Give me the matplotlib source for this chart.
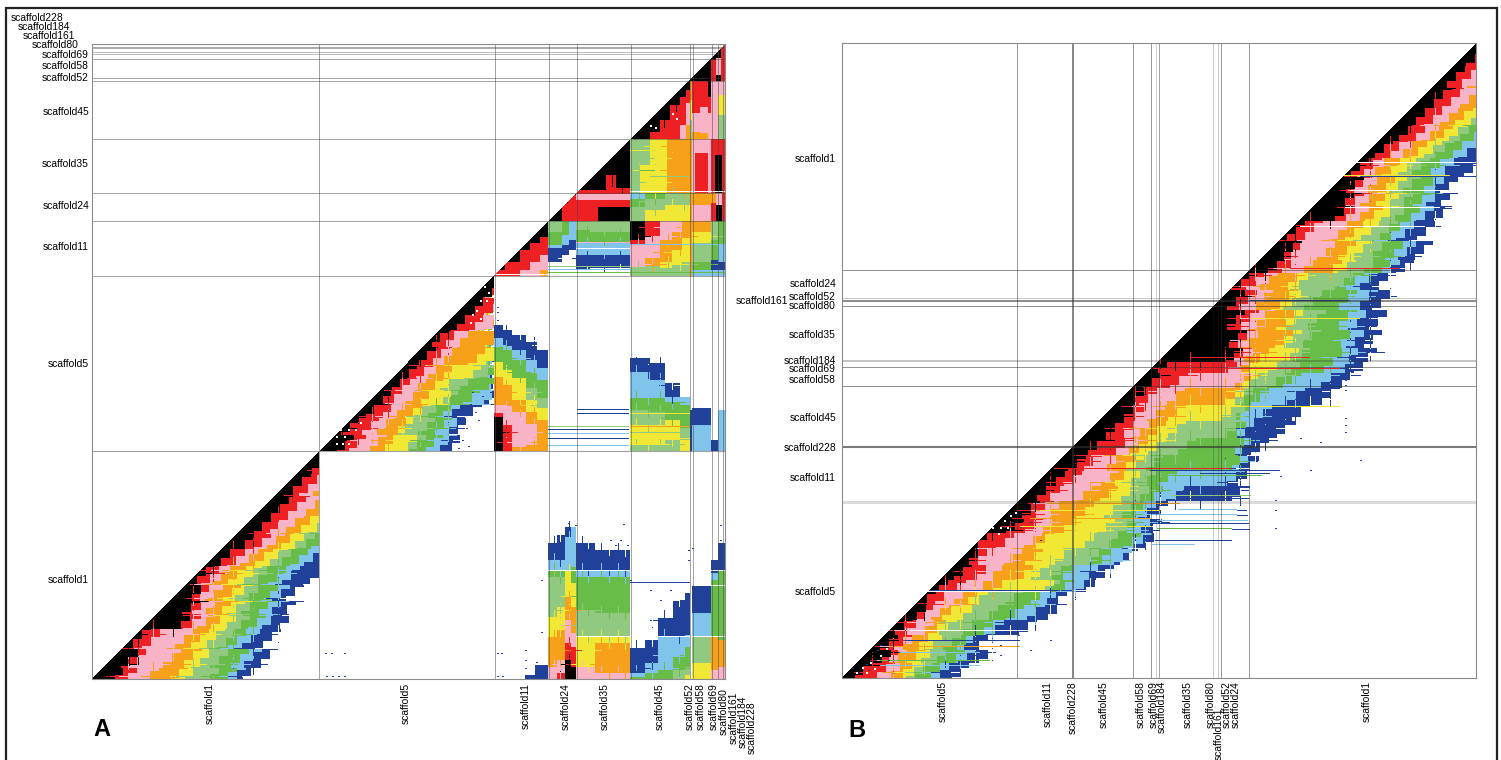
import numpy as np
import matplotlib
matplotlib.use("Agg")
import matplotlib.pyplot as plt
from matplotlib.colors import ListedColormap
from matplotlib.patches import Rectangle

plt.rcParams['font.family'] = ['Liberation Sans', 'DejaVu Sans']

# class codes: white, black, red, pink, orange, yellow, light green, green, sky, blue
CODES = "WKRPOYLGSB"
COLOURS = ['#FFFFFF', '#000000', '#EE2024', '#F8B4C6', '#F7A11B', '#F0E835',
           '#92C981', '#68BC48', '#80C4EC', '#21409A']

# ---------- panel B: distance from the diagonal at which each class ends, by row
B_ROW = [57, 76, 100, 117, 133, 150, 167, 187, 200, 213, 230, 253, 267, 280, 300, 320, 340, 357, 367,
         380, 397, 413, 430, 447, 463, 480, 493, 510, 527, 540, 557, 573, 587, 597, 613, 628, 643, 657, 670]
B_K = [14, 13, 18, 18, 19, 13, 7, 20, 28, 36, 6, 21, 23, 4, 18, 36, 56, 70, 12,
       15, 16, 23, 23, 23, 21, 18, 17, 20, 22, 3, 12, 15, 9, 6, 14, 10, 13, 24, 14]
B_R = [30, 26, 33, 33, 34, 26, 18, 26, 36, 45, 22, 26, 35, 17, 28, 48, 63, 77, 80,
       40, 27, 32, 39, 49, 35, 33, 29, 32, 39, 28, 19, 36, 25, 21, 19, 20, 25, 29, 35]
B_P = [45, 38, 49, 47, 46, 37, 27, 38, 48, 57, 53, 59, 55, 29, 42, 62, 72, 85, 90,
       103, 53, 51, 53, 60, 56, 68, 59, 44, 55, 54, 52, 50, 49, 38, 33, 36, 32, 36, 47]
B_O = [60, 52, 65, 60, 58, 50, 41, 54, 62, 69, 67, 78, 82, 55, 65, 88, 105, 99, 97,
       108, 110, 70, 68, 68, 73, 80, 83, 77, 74, 64, 71, 79, 66, 50, 42, 46, 46, 52, 57]
B_Y = [75, 66, 79, 74, 70, 63, 55, 64, 74, 83, 81, 92, 94, 64, 75, 95, 112, 127, 123,
       113, 117, 122, 86, 84, 80, 94, 102, 103, 114, 111, 99, 93, 116, 59, 61, 55, 58, 64, 66]
B_L = [90, 80, 93, 85, 79, 73, 67, 76, 86, 95, 98, 109, 118, 107, 94, 116, 129, 137, 144,
       138, 124, 134, 143, 112, 97, 108, 119, 119, 133, 133, 132, 112, 120, 92, 85, 77, 75, 78, 73]
B_G = [105, 95, 107, 99, 91, 88, 84, 95, 102, 109, 107, 128, 134, 116, 127, 145, 165, 175, 175,
       152, 138, 136, 151, 167, 182, 127, 131, 129, 140, 154, 142, 121, 132, 116, 109, 96, 87, 95, 88]
B_S = [120, 110, 121, 111, 103, 100, 96, 104, 113, 121, 119, 139, 141, 128, 146, 161, 177, 189, 194,
       188, 172, 157, 157, 172, 187, 193, 150, 140, 152, 163, 161, 145, 149, 130, 128, 105, 92, 104, 95]
B_B = [135, 125, 134, 125, 115, 118, 122, 116, 126, 137, 138, 154, 153, 145, 165, 180, 193, 206, 210,
       207, 205, 193, 196, 188, 196, 202, 214, 150, 162, 172, 165, 159, 158, 139, 147, 136, 105, 123, 113]
B_TABLE = [B_K, B_R, B_P, B_O, B_Y, B_L, B_G, B_S, B_B]

# thin streaks in panel B: y, x from, x to, class
B_STREAKS = [
    (162, 1340, 1476, 'W'), (175, 1330, 1450, 'Y'), (176, 1360, 1476, 'B'), (190, 1350, 1450, 'W'),
    (207, 1345, 1440, 'W'), (226, 1300, 1425, 'W'), (268, 1290, 1400, 'R'), (300, 1250, 1350, 'B'),
    (318, 1252, 1360, 'Y'), (368, 1180, 1340, 'R'), (357, 1190, 1310, 'R'), (406, 1180, 1340, 'Y'),
    (468, 1070, 1230, 'R'), (470, 1150, 1280, 'B'), (473, 1200, 1270, 'B'), (475, 1150, 1262, 'G'),
    (495, 1171, 1251, 'L'), (498, 1176, 1249, 'B'), (503, 1050, 1180, 'O'), (509, 1178, 1237, 'S'),
    (510, 1237, 1247, 'B'), (514, 1157, 1237, 'S'), (515, 1237, 1248, 'B'), (520, 1157, 1248, 'S'),
    (523, 1157, 1249, 'B'), (528, 1157, 1232, 'G'), (529, 1232, 1250, 'B'), (540, 1155, 1232, 'B'),
    (544, 1152, 1195, 'S'), (510, 1040, 1160, 'Y'), (518, 1030, 1150, 'O'), (526, 1020, 1150, 'Y'),
    (590, 930, 1060, 'B'), (591, 925, 1050, 'W'), (630, 910, 1020, 'W'), (640, 905, 1020, 'B'),
    (646, 905, 1020, 'O'), (652, 900, 980, 'S'), (660, 880, 990, 'G'), (665, 880, 980, 'S'),
]
B_SPECKS = [(1023, 515), (1030, 522), (1012, 522), (1004, 527), (1020, 527), (1040, 540), (858, 672),
            (852, 668), (866, 664), (874, 660), (868, 670), (877, 650), (880, 645), (888, 660),
            (1000, 645), (1018, 635), (1272, 470), (1280, 476), (1275, 500), (1275, 510), (1275, 528),
            (1345, 418), (1345, 425), (1345, 432), (1345, 380), (1345, 385), (1345, 390), (1320, 442),
            (1300, 438), (1360, 460), (1310, 470), (1050, 640), (1000, 655), (1020, 625), (1030, 650)]
# rows and columns where the bands sit displaced: position, displacement
B_ROLL_ROW = [(62, 5), (88, -4), (125, 5), (162, 8), (165, -6), (176, 7), (190, 6), (193, -8), (207, 7), (226, -6),
              (240, 8), (256, -7), (268, 9), (275, -8), (286, 7), (296, -7), (318, 9), (326, -8), (340, 8), (352, -8),
              (357, 12), (368, 14), (375, -10), (391, 9), (406, 12), (416, -9), (428, 10), (440, -9), (455, 12),
              (461, -8), (468, 14), (482, 10), (490, -8), (503, 12), (510, 14), (514, -9), (518, 12), (522, -8),
              (526, 14), (530, -8), (548, 10), (560, -8), (571, 9), (590, 14), (604, -9), (622, 9), (630, 14),
              (640, -10), (646, 14), (652, -8), (660, 12), (665, -8), (672, 9)]
B_ROLL_COL = [(872, 8), (893, -8), (905, 10), (924, -9), (945, 10), (960, -9), (975, 10), (992, -8), (1010, 10),
              (1035, -9), (1050, 10), (1075, -8), (1090, 9), (1110, -9), (1135, 10), (1145, -8), (1160, 9),
              (1175, -9), (1190, 10), (1200, -8), (1225, 10), (1240, -9), (1255, 9), (1265, -8), (1285, 9),
              (1295, -8), (1310, 9), (1330, -8), (1350, 8), (1370, -8), (1390, 8), (1410, -7), (1435, 7)]

# ---------- panel A, scaffold5 triangle: x at which each class ends, by row
A5_ROW = [290, 307, 323, 340, 357, 373, 383, 397, 413, 423, 447]
A5_K = [494, 478, 462, 438, 426, 409, 400, 386, 371, 354, 344]
A5_R = [494, 494, 478, 450, 438, 423, 408, 395, 386, 373, 354]
A5_P = [494, 494, 494, 462, 447, 433, 422, 413, 398, 386, 373]
A5_O = [494, 494, 494, 494, 478, 447, 437, 427, 413, 405, 386]
A5_Y = [494, 494, 494, 494, 494, 474, 449, 447, 420, 410, 408]
A5_L = [494, 494, 494, 494, 494, 488, 467, 452, 432, 430, 415]
A5_G = [494, 494, 494, 494, 494, 494, 494, 472, 445, 445, 430]
A5_S = [494, 494, 494, 494, 494, 494, 494, 491, 452, 457, 442]
A5_B = [494, 494, 494, 494, 494, 494, 494, 494, 472, 464, 452]
A5_TABLE = [A5_K, A5_R, A5_P, A5_O, A5_Y, A5_L, A5_G, A5_S, A5_B]

# ---------- panel A: column stripes, x from, x to, y end, classes, y starts
A_UPPER = [
    (630, 650, 139, "K", [81]), (650, 660, 139, "KR", [81, 132]), (660, 670, 139, "KR", [81, 120]),
    (670, 680, 139, "KR", [81, 105]), (680, 686, 139, "KRP", [81, 97, 125]),
    (686, 690, 139, "KRPO", [81, 90, 103, 125]),
    (690, 692, 139, "OYL", [81, 100, 120]), (692, 700, 139, "RPO", [81, 113, 132]),
    (700, 708, 139, "RPO", [81, 107, 133]), (708, 711, 139, "KRP", [81, 97, 113]),
    (711, 718, 139, "P", [81]), (718, 725, 139, "PYL", [81, 95, 115]),
    (688, 711, 81, "K", [44]), (711, 716, 81, "KR", [44, 60]), (716, 721, 81, "KPK", [44, 58, 75]),
    (721, 725, 81, "R", [44]),
    (576, 606, 193, "KR", [139, 191]), (606, 616, 193, "KR", [139, 175]), (616, 630, 193, "KR", [139, 188]),
    (630, 640, 193, "L", [139]), (640, 650, 193, "LY", [139, 165]), (650, 667, 193, "Y", [139]),
    (667, 690, 193, "O", [139]), (690, 692, 193, "O", [139]), (692, 695, 193, "P", [139]),
    (695, 708, 193, "PR", [139, 153]), (708, 711, 193, "P", [139]), (711, 715, 193, "R", [139]),
    (715, 722, 193, "RK", [139, 155]), (722, 725, 193, "R", [139]),
    (548, 562, 221, "K", [193]), (562, 568, 221, "KR", [193, 203]), (568, 576, 221, "KR", [193, 195]),
    (576, 598, 221, "RPR", [193, 194, 200]), (598, 630, 221, "RPRK", [193, 194, 200, 207]),
    (630, 645, 221, "SGL", [193, 199, 207]), (645, 665, 221, "GLY", [193, 199, 210]),
    (665, 690, 221, "LY", [193, 205]), (690, 692, 221, "O", [193]), (692, 711, 221, "OP", [193, 205]),
    (711, 716, 221, "OR", [193, 203]), (716, 722, 221, "PK", [193, 205]), (722, 725, 221, "R", [193]),
    (494, 505, 276, "KR", [221, 270]), (505, 520, 276, "KR", [221, 262]), (520, 530, 276, "KRP", [221, 250, 270]),
    (530, 540, 276, "KRP", [221, 243, 262]), (540, 548, 276, "KRPO", [221, 237, 255, 270]),
    (548, 562, 276, "LGSBW", [221, 232, 245, 248, 262]), (562, 569, 276, "GSBW", [221, 235, 245, 255]),
    (569, 576, 276, "SBW", [221, 240, 250]),
    (576, 590, 276, "LGPSBW", [221, 230, 242, 243, 255, 270]),
    (590, 630, 276, "LGPSBW", [221, 232, 242, 243, 255, 268]),
    (630, 645, 276, "KRPL", [221, 240, 245, 267]), (645, 660, 276, "RPOL", [221, 236, 258, 266]),
    (660, 672, 276, "POYL", [221, 240, 262, 268]), (672, 682, 276, "POYL", [221, 232, 250, 265]),
    (682, 690, 276, "OYL", [221, 238, 262]), (690, 692, 276, "O", [221]),
    (692, 711, 276, "OYLGS", [221, 232, 243, 262, 270]), (711, 718, 276, "LGBS", [221, 240, 260, 270]),
    (718, 725, 276, "GSBS", [221, 245, 262, 270]),
]
A_MIDDLE = [
    (494, 503, 451, "WBSGYOPRK", [276, 325, 338, 347, 362, 377, 405, 413, 417]),
    (503, 512, 451, "WBSGYOPR", [276, 330, 345, 350, 370, 385, 405, 425]),
    (512, 526, 451, "WBSGYOPO", [276, 335, 350, 360, 378, 400, 412, 447]),
    (526, 537, 451, "WBSGLYOPO", [276, 342, 360, 372, 388, 400, 412, 424, 445]),
    (537, 548, 451, "WBSGLYO", [276, 350, 368, 380, 398, 408, 420]),
    (630, 650, 451, "WBSGLYL", [276, 358, 372, 398, 410, 425, 445]),
    (650, 665, 451, "WBSGLYL", [276, 363, 380, 398, 412, 425, 445]),
    (665, 680, 451, "WBSGYL", [276, 383, 397, 402, 420, 440]),
    (680, 690, 451, "WSGLY", [276, 397, 405, 428, 440]),
    (690, 692, 451, "WB", [276, 410]), (692, 711, 451, "WBS", [276, 408, 425]),
    (711, 718, 451, "WB", [276, 440]), (718, 725, 451, "WS", [276, 410]),
]
A_LOWER = [
    (535, 548, 679, "WB", [451, 665]), (525, 535, 679, "WB", [451, 675]),
    (548, 557, 679, "WBSGLYOP", [451, 543, 560, 570, 577, 617, 637, 667]),
    (557, 565, 679, "WBSGLYOPR", [451, 535, 560, 570, 577, 607, 630, 660, 673]),
    (565, 571, 679, "WBSYOPRK", [451, 527, 537, 570, 597, 620, 643, 660]),
    (571, 576, 679, "WSGYOPRK", [451, 527, 567, 583, 607, 633, 647, 667]),
    (576, 595, 679, "WBSGLYP", [451, 543, 570, 577, 610, 637, 667]),
    (595, 630, 679, "WBSGLYOP", [451, 550, 570, 577, 613, 637, 643, 673]),
    (630, 645, 679, "WBSG", [451, 648, 673, 677]), (645, 658, 679, "WBSG", [451, 640, 663, 673]),
    (658, 673, 679, "WBSG", [451, 618, 637, 670]), (673, 685, 679, "WBSGL", [451, 600, 637, 657, 670]),
    (685, 690, 679, "WBSGLY", [451, 593, 635, 647, 667, 675]),
    (692, 711, 679, "WBSLY", [451, 585, 613, 637, 663]),
    (711, 718, 679, "WBSGOP", [451, 560, 573, 580, 637, 670]),
    (718, 725, 679, "WBGOP", [451, 543, 570, 640, 667]),
]
A_STREAKS = [
    (409, 577, 629, 'B'), (413, 577, 629, 'B'), (426, 548, 629, 'L'), (429, 548, 629, 'B'),
    (433, 548, 629, 'S'), (438, 548, 629, 'B'), (445, 548, 629, 'S'), (426, 630, 690, 'O'),
    (432, 630, 690, 'L'), (438, 630, 690, 'Y'), (413, 630, 690, 'Y'), (582, 630, 690, 'B'),
    (570, 548, 725, 'W'), (636, 576, 725, 'W'), (190, 576, 630, 'R'), (248, 576, 630, 'W'),
    (266, 548, 630, 'L'), (269, 548, 630, 'S'), (272, 548, 725, 'G'), (244, 630, 725, 'S'),
    (274, 494, 548, 'W'), (230, 595, 630, 'L'), (191, 630, 725, 'W'), (585, 692, 725, 'W'),
    (170, 640, 655, 'G'), (150, 630, 650, 'Y'), (176, 650, 690, 'L'),
]
A_SPECKS = [(325, 653), (331, 653), (344, 653), (326, 676), (332, 676), (338, 676), (344, 676),
            (497, 653), (501, 653), (497, 676), (502, 676), (525, 650), (525, 660), (525, 668),
            (541, 632), (536, 662), (541, 580), (575, 525), (568, 523), (623, 524), (610, 540),
            (615, 545), (620, 540), (627, 545), (630, 580), (650, 590), (660, 600), (670, 590),
            (688, 550), (692, 548), (688, 560), (720, 525), (720, 540),
            (497, 307), (497, 312), (497, 320), (456, 410), (462, 420), (466, 428), (470, 404),
            (475, 412), (462, 440), (468, 446), (478, 420), (452, 430), (458, 448), (486, 402),
            (472, 392), (482, 396), (490, 392)]
# displaced rows and columns inside the blocks of panel A: position, from, to, displacement
A_ROLL_ROW = [(227, 630, 690, 6), (236, 630, 725, -6), (252, 630, 690, 8), (258, 548, 630, 4), (264, 630, 725, -7),
              (146, 630, 690, 6), (158, 630, 690, -6), (170, 630, 690, 7), (182, 630, 690, -6), (201, 630, 690, 6),
              (345, 494, 548, 5), (358, 494, 548, -5), (372, 494, 548, 6), (392, 494, 548, -5), (405, 494, 548, 6),
              (432, 494, 548, -6), (442, 494, 548, 6), (330, 319, 494, 6), (347, 319, 494, -6), (365, 319, 494, 8),
              (378, 319, 494, -7), (390, 319, 494, 7), (404, 319, 494, -7), (416, 319, 494, 8), (428, 319, 494, -7),
              (440, 319, 494, 7), (596, 548, 630, 5), (610, 548, 630, -6), (625, 548, 630, 5), (650, 548, 630, -6),
              (664, 548, 630, 5), (620, 630, 690, 8), (600, 630, 690, -6), (655, 630, 690, 6), (668, 630, 690, -6),
              (385, 630, 690, 6), (402, 630, 690, -6), (418, 630, 690, 6), (444, 630, 690, -5)]
A_ROLL_COL = [(554, 451, 679, 7), (560, 451, 679, -7), (569, 451, 679, 6), (582, 451, 679, 7), (588, 451, 679, -6),
              (601, 451, 679, 7), (609, 451, 679, -6), (618, 451, 679, 7), (625, 451, 679, -7), (636, 451, 679, 8),
              (652, 451, 679, -7), (664, 451, 679, 8), (679, 451, 679, -7), (636, 357, 451, 7), (648, 357, 451, -7),
              (660, 357, 451, 7), (672, 357, 451, -7), (638, 221, 276, 6), (652, 221, 276, -6), (668, 221, 276, 6),
              (680, 221, 276, -6), (587, 221, 276, 4), (604, 221, 276, -4), (620, 221, 276, 4), (639, 139, 221, 6),
              (655, 139, 221, -6), (672, 139, 221, 6), (684, 139, 221, -6), (612, 139, 193, -12), (622, 139, 193, -6),
              (664, 81, 139, -8), (676, 81, 139, -7), (342, 276, 451, 7), (358, 276, 451, -6), (372, 276, 451, 7),
              (388, 276, 451, -6), (402, 276, 451, 7), (420, 276, 451, -7), (436, 276, 451, 7), (448, 276, 451, -6),
              (506, 276, 451, 5), (520, 276, 451, -5), (534, 276, 451, 5)]
# white flecks in the black of scaffold5 and scaffold45
WHITE_A = [(336, 443), (342, 443), (348, 443), (336, 436), (344, 436), (340, 429), (348, 429),
           (355, 429), (360, 422), (484, 286), (488, 292), (480, 300), (486, 300), (476, 310),
           (472, 314), (480, 318), (470, 322), (650, 125), (655, 127), (672, 113), (676, 118)]
WHITE_B = [(856, 672), (862, 667), (866, 672), (870, 662), (874, 668), (880, 655), (886, 648),
           (1004, 520), (1010, 515), (1000, 527), (992, 527), (1007, 527), (1015, 512), (998, 533)]

# ---------- scaffold divisions and labels
A_V = [319, 494.5, 548.5, 576.5, 630.5, 689.5, 692.5, 711.5, 717.5, 722.5]
A_H = [47.7, 51.7, 53.5, 58.7, 77.7, 80.7, 139.3, 193.3, 221.3, 276.3, 451.3]
B_V = [1017.5, 1073, 1132.5, 1151.3, 1156, 1159, 1212.7, 1217.5, 1221, 1248.7]
B_H = [270, 298, 301, 306, 361, 367, 386, 447, 502]
A_H_W = [1.3, 0.5, 0.5, 0.7, 0.7, 0.7, 0.7, 0.7, 0.7, 0.7, 0.8]
B_V_W = [0.7, 1.2, 0.7, 0.7, 0.5, 0.7, 0.6, 0.6, 0.7, 0.7]
B_H_W = [0.7, 0.6, 1.5, 0.7, 1.2, 0.7, 0.7, 1.5, 2.2]
B_H_A = [.55, .3, .55, .55, .35, .55, .55, .65, .18]
B_V_A = [.5, .7, .5, .5, .3, .45, .3, .3, .5, .5]

A_YNAMES = ["scaffold228", "scaffold184", "scaffold161", "scaffold80", "scaffold69", "scaffold58",
            "scaffold52", "scaffold45", "scaffold35", "scaffold24", "scaffold11", "scaffold5", "scaffold1"]
A_YPOS = [18, 27, 36, 45, 55, 66, 78, 112, 164, 206, 247, 364, 580]
A_YRIGHT = [63, 70, 75, 79, 89, 89, 89, 89, 89, 89, 89, 89, 89]
A_XNAMES = ["scaffold1", "scaffold5", "scaffold11", "scaffold24", "scaffold35", "scaffold45", "scaffold52",
            "scaffold58", "scaffold69", "scaffold80", "scaffold161", "scaffold184", "scaffold228"]
A_XPOS = [210, 406, 525.5, 566, 605, 660, 690, 701, 714, 723.5, 734, 743, 752]
A_XTOP = [683, 683, 683, 683, 683, 683, 683, 683, 683, 688, 692, 696, 701]
B_YNAMES = ["scaffold1", "scaffold24", "scaffold52", "scaffold161", "scaffold80", "scaffold35", "scaffold184",
            "scaffold69", "scaffold58", "scaffold45", "scaffold228", "scaffold11", "scaffold5"]
B_YPOS = [159, 284, 297, 301, 306, 335, 361, 369, 380, 418, 448, 478, 592]
B_YRIGHT = [836, 836, 836, 788, 836, 836, 836, 836, 836, 836, 836, 836, 836]
B_XNAMES = ["scaffold5", "scaffold11", "scaffold228", "scaffold45", "scaffold58", "scaffold69", "scaffold184",
            "scaffold35", "scaffold80", "scaffold161", "scaffold52", "scaffold24", "scaffold1"]
B_XPOS = [943, 1048, 1073, 1103.6, 1141, 1153.7, 1162, 1188, 1211, 1219, 1227, 1236, 1367]
B_XTOP = [681, 681, 681, 681, 681, 681, 681, 681, 681, 708, 681, 681, 681]

A_BOX = (92, 725, 679, 44)
B_BOX = (842, 1476, 678, 43)
S1_SHIFT = (-1157, 408)     # where scaffold1 of panel B falls in panel A
STAIR = 9                   # height of a stair along a band edge


def new_grid(box):
    return np.zeros((box[2] - box[3], box[1] - box[0]), dtype=int)


def diag_x(box, y):
    return box[0] + (box[2] - y) * (box[1] - box[0]) / (box[2] - box[3])


def paint(grid, box, x0, x1, y0, y1, code):
    c = CODES.index(code) if isinstance(code, str) else code
    i0, i1 = int(round(y0 - box[3])), int(round(y1 - box[3]))
    j0, j1 = int(round(x0 - box[0])), int(round(x1 - box[0]))
    grid[max(i0, 0):max(i1, 0), max(j0, 0):max(j1, 0)] = c


def paint_rows(grid, box, rows, table, dy=0, xmax=None, ymax=None, absolute=False):
    """Each class ends at a fixed distance from the diagonal within a table row, in stairs."""
    n = len(rows)
    for i, y in enumerate(rows):
        top = (rows[i - 1] + y) / 2 if i else y - 20
        bot = (y + rows[i + 1]) / 2 if i < n - 1 else y + 20
        for yy in range(int(top + dy), int(bot + dy)):
            if ymax is not None and yy >= ymax:
                continue
            start = box[0]
            for k, col in enumerate(table):
                d = col[i] - diag_x(box, y) if absolute else col[i]
                stair_y = (yy + 2 * k) // STAIR * STAIR - 2 * k
                end = diag_x(box, stair_y + STAIR / 2) + d
                if xmax is not None:
                    end = min(end, xmax)
                end = max(end, start)
                paint(grid, box, start, end, yy, yy + 1, k + 1)
                start = end


def paint_stripes(grid, box, stripes):
    for x0, x1, yend, codes, starts in stripes:
        for i, c in enumerate(codes):
            y1 = starts[i + 1] if i + 1 < len(starts) else yend
            paint(grid, box, x0, x1, starts[i], y1, c)


def displace_row(grid, box, y, x0, x1, s):
    i = int(y - box[3])
    j0, j1 = int(x0 - box[0]), int(x1 - box[0])
    j1 = min(j1, grid.shape[1])
    seg = grid[i, j0:j1].copy()
    if s > 0:
        grid[i, j0:j1 - s] = seg[s:]
    elif s < 0:
        grid[i, j0 - s:j1] = seg[:s]


def displace_col(grid, box, x, y0, y1, s):
    j = int(x - box[0])
    i0, i1 = int(y0 - box[3]), int(y1 - box[3])
    i1 = min(i1, grid.shape[0])
    seg = grid[i0:i1, j].copy()
    if s > 0:
        grid[i0:i1 - s, j] = seg[s:]
    elif s < 0:
        grid[i0 - s:i1, j] = seg[:s]


def mask_diagonal(grid, box):
    for i in range(grid.shape[0]):
        j = int(round(diag_x(box, box[3] + i + 0.5) - box[0]))
        grid[i, :max(j, 0)] = 0


cmap = ListedColormap(COLOURS)

# panel A cells
gridA = new_grid(A_BOX)
paint_stripes(gridA, A_BOX, A_UPPER + A_MIDDLE + A_LOWER)
keep = [i for i, y in enumerate(B_ROW) if y <= 267]
paint_rows(gridA, A_BOX, [B_ROW[i] for i in keep], [[c[i] for i in keep] for c in B_TABLE],
           dy=S1_SHIFT[1], xmax=319)
paint_rows(gridA, A_BOX, A5_ROW, A5_TABLE, xmax=494, ymax=451, absolute=True)
for y, s in B_ROLL_ROW:
    if y < 270:
        displace_row(gridA, A_BOX, y + S1_SHIFT[1], 92, 319, s)
for x, s in B_ROLL_COL:
    if x > 1250:
        displace_col(gridA, A_BOX, x + S1_SHIFT[0], 451, 679, s)
for y, x0, x1, s in A_ROLL_ROW:
    displace_row(gridA, A_BOX, y, x0, x1, s)
for x, y0, y1, s in A_ROLL_COL:
    displace_col(gridA, A_BOX, x, y0, y1, s)
for y, x0, x1, c in A_STREAKS:
    paint(gridA, A_BOX, x0, x1, y, y + 1, c)
for x, y in A_SPECKS:
    paint(gridA, A_BOX, x, x + 2, y, y + 1, 'B')
for x, y in WHITE_A:
    paint(gridA, A_BOX, x, x + 2, y, y + 2, 'W')
mask_diagonal(gridA, A_BOX)

# panel B cells
gridB = new_grid(B_BOX)
paint_rows(gridB, B_BOX, B_ROW, B_TABLE)
for y, s in B_ROLL_ROW:
    displace_row(gridB, B_BOX, y, 842, 1476, s)
for x, s in B_ROLL_COL:
    displace_col(gridB, B_BOX, x, 43, 678, s)
for y, x0, x1, c in B_STREAKS:
    paint(gridB, B_BOX, x0, x1, y, y + 1, c)
for x, y in B_SPECKS:
    paint(gridB, B_BOX, x, x + 2, y, y + 1, 'B')
for x, y in WHITE_B:
    paint(gridB, B_BOX, x, x + 2, y, y + 2, 'W')
mask_diagonal(gridB, B_BOX)

fig = plt.figure(figsize=(15.01, 7.60), dpi=100)
FW, FH = 1501.0, 760.0


def panel(box, grid):
    ax = fig.add_axes([box[0] / FW, 1 - box[2] / FH, (box[1] - box[0]) / FW, (box[2] - box[3]) / FH])
    ax.imshow(grid, cmap=cmap, vmin=0, vmax=9, interpolation='nearest', aspect='auto',
              extent=(box[0], box[1], box[2], box[3]))
    ax.set_xlim(box[0], box[1])
    ax.set_ylim(box[2], box[3])
    ax.set_xticks([])
    ax.set_yticks([])
    for s in ax.spines.values():
        s.set_color('#8a8a8a')
        s.set_linewidth(0.8)
    return ax


axA = panel(A_BOX, gridA)
axB = panel(B_BOX, gridB)

for x in A_V:
    axA.axvline(x, color='#444444', lw=0.7, alpha=0.5)
for y, w in zip(A_H, A_H_W):
    axA.axhline(y, color='#444444', lw=w, alpha=0.5)
for x, w, a in zip(B_V, B_V_W, B_V_A):
    axB.axvline(x, color='#333333', lw=w, alpha=a)
for y, w, a in zip(B_H, B_H_W, B_H_A):
    axB.axhline(y, color='#333333', lw=w, alpha=a)

FS = 7.4
for ax, names, pos, right in ((axA, A_YNAMES, A_YPOS, A_YRIGHT), (axB, B_YNAMES, B_YPOS, B_YRIGHT)):
    for n, y, r in zip(names, pos, right):
        ax.text(r, y, n, ha='right', va='center', fontsize=FS, clip_on=False)
for ax, names, pos, top in ((axA, A_XNAMES, A_XPOS, A_XTOP), (axB, B_XNAMES, B_XPOS, B_XTOP)):
    for n, x, t in zip(names, pos, top):
        ax.text(x, t, n, ha='center', va='top', rotation=90, fontsize=FS, clip_on=False)

axA.text(93, 736, "A", fontsize=17, fontweight='bold', ha='left', va='baseline', clip_on=False)
axB.text(848, 737, "B", fontsize=17, fontweight='bold', ha='left', va='baseline', clip_on=False)

# outer frame, open at the bottom edge of the picture
fig.add_artist(Rectangle((5.5 / FW, -0.02), (1497 - 5.5) / FW, 1.02 - 7.5 / FH, transform=fig.transFigure,
                         fill=False, edgecolor='#222222', lw=1.6))

fig.savefig("out.png", dpi=100)
